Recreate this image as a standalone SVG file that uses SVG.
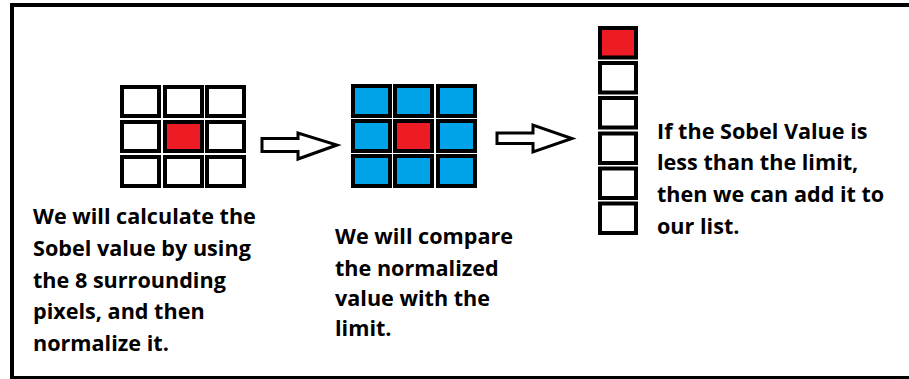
<svg xmlns="http://www.w3.org/2000/svg" width="909" height="379" viewBox="0 0 909 379">
<style>
.c{stroke:#000;stroke-width:4;fill:#fff}
.r{fill:#ed1c24}
.b{fill:#00a2e8}
.t{font-family:"Open Sans",Lato,sans-serif;font-weight:bold;font-size:21.6px;fill:#000}
.arr{fill:#fff;stroke:#000;stroke-width:3;stroke-linejoin:miter}
</style>
<rect width="909" height="379" fill="#fff"/>
<rect x="12" y="5" width="920" height="373" fill="none" stroke="#000" stroke-width="4"/>
<g id="grid1">
<rect class="c" x="122" y="87" width="37" height="29"/>
<rect class="c" x="165" y="87" width="37" height="29"/>
<rect class="c" x="207" y="87" width="37" height="29"/>
<rect class="c" x="122" y="122" width="37" height="29"/>
<rect class="c r" x="165" y="122" width="37" height="29"/>
<rect class="c" x="207" y="122" width="37" height="29"/>
<rect class="c" x="122" y="157" width="37" height="29"/>
<rect class="c" x="165" y="157" width="37" height="29"/>
<rect class="c" x="207" y="157" width="37" height="29"/>
</g>
<g id="grid2">
<rect class="c b" x="353" y="86" width="37" height="30"/>
<rect class="c b" x="395" y="86" width="37" height="30"/>
<rect class="c b" x="438" y="86" width="37" height="30"/>
<rect class="c b" x="353" y="121" width="37" height="30"/>
<rect class="c r" x="395" y="121" width="37" height="30"/>
<rect class="c b" x="438" y="121" width="37" height="30"/>
<rect class="c b" x="353" y="156" width="37" height="30"/>
<rect class="c b" x="395" y="156" width="37" height="30"/>
<rect class="c b" x="438" y="156" width="37" height="30"/>
</g>
<g id="list">
<rect class="c r" x="600" y="28" width="36" height="29.5"/>
<rect class="c" x="600" y="63" width="36" height="29.5"/>
<rect class="c" x="600" y="98" width="36" height="29.5"/>
<rect class="c" x="600" y="133.5" width="36" height="29.5"/>
<rect class="c" x="600" y="168.5" width="36" height="29.5"/>
<rect class="c" x="600" y="203.5" width="36" height="29.5"/>
</g>
<g id="connectors">
<polygon class="arr" points="262,138.5 298,138.5 298,133 337,145 298,159 298,151.5 262,151.5"/>
<polygon class="arr" points="497,133 533,133 533,125 572,138.5 533,152 533,143.5 497,143.5"/>
</g>
<g id="text1">
<text class="t" x="33" y="224">We will calculate the</text>
<text class="t" x="33" y="256">Sobel value by using</text>
<text class="t" x="33" y="288">the 8 surrounding</text>
<text class="t" x="33" y="319">pixels, and then</text>
<text class="t" x="33" y="351">normalize it.</text>
</g>
<g id="text2">
<text class="t" x="335" y="244">We will compare</text>
<text class="t" x="335" y="276">the normalized</text>
<text class="t" x="335" y="306">value with the</text>
<text class="t" x="335" y="336">limit.</text>
</g>
<g id="text3">
<text class="t" x="657" y="139">If the Sobel Value is</text>
<text class="t" x="657" y="170">less than the limit,</text>
<text class="t" x="657" y="202">then we can add it to</text>
<text class="t" x="657" y="234">our list.</text>
</g>
</svg>
